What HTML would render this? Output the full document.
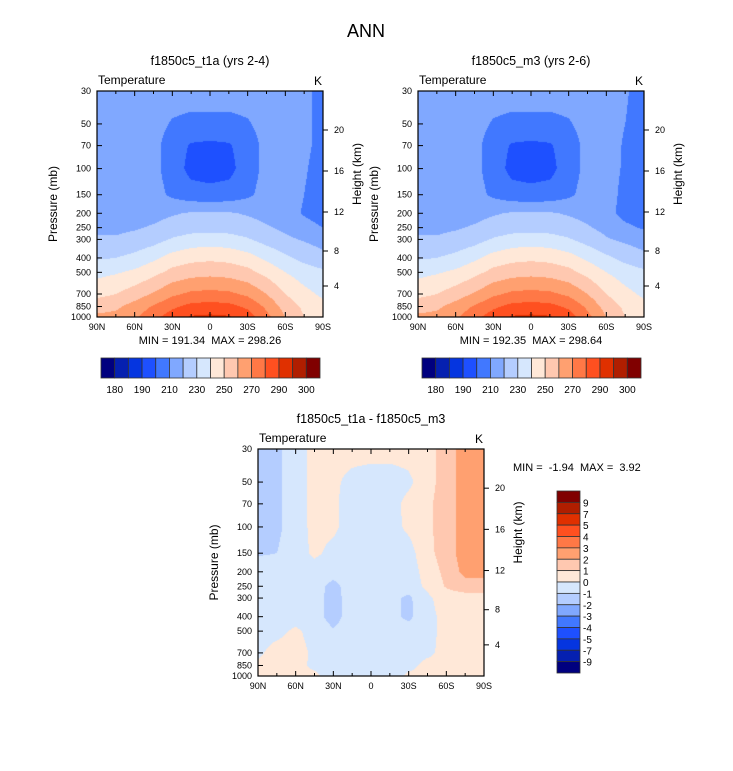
<!DOCTYPE html>
<html><head><meta charset="utf-8"><style>
body{margin:0;background:#fff;width:733px;height:771px;overflow:hidden;position:relative;font-family:"Liberation Sans",sans-serif}
canvas{position:absolute}
svg{position:absolute;left:0;top:0}
</style></head><body>
<canvas id="c0"></canvas>
<canvas id="c1"></canvas>
<canvas id="c2"></canvas>
<svg id="s" width="733" height="771"></svg>
<script>
const lats=[90,75,60,45,30,15,0,-15,-30,-45,-60,-75,-90];
const levs=[30,50,70,100,150,200,250,300,400,500,700,850,1000];
const pTicks=[30,50,70,100,150,200,250,300,400,500,700,850,1000];
const hTicks=[20,16,12,8,4];
const hTickY=[130,171,212,251,286];
const latTicks=[90,60,30,0,-30,-60,-90];
const latLabels=["90N","60N","30N","0","30S","60S","90S"];
const tLevels=[180,185,190,200,210,220,230,240,250,260,270,280,290,295,300];
const tLabels=["180","190","210","230","250","270","290","300"];
const dLevels=[-9,-7,-5,-4,-3,-2,-1,0,1,2,3,4,5,7,9];
const colors=["#00007f","#0520b0","#0535e0","#1e50ff","#4178ff","#80a8ff","#b4cdff","#d6e7fd","#ffe8d8","#ffc8b0","#ffa070","#ff7846","#ff5020","#e03000","#b01e00","#800000"];
const tempA=[
[215,215,215,215,215,215,215,215,215,215,215,212,207],
[215,215,215,214,209,207,207,207,209,214,215,212,207],
[215,215,215,213,205,199,198,199,205,213,215,212,207],
[215,215,215,213,205,197,196,197,205,213,215,211,206],
[215,215,215,214,208,204,203,204,208,214,215,210,205],
[216,216,216,217,219,221,221,221,219,217,214,209,205],
[218,218,219,221,224,226,226,226,224,221,218,214,210],
[221,221,223,226,231,234,235,234,231,226,222,219,216],
[229,230,233,238,244,247,248,247,244,238,232,227,223],
[237,239,242,247,253,256,257,256,253,247,240,235,232],
[247,250,255,261,268,272,273,272,268,260,250,243,238],
[256,258,264,271,278,283,284,283,278,268,256,248,243],
[262,263,268,277,285,291,292,291,285,273,260,250,246]];
const tempB=[
[215,215,215,215,215,215,215,215,215,215,214,211,206],
[215,215,215,214,209,207,207,207,209,214,214,210,206],
[215,215,215,213,205,199,198,199,205,213,214,209,206],
[215,215,215,213,205,197,196,197,205,213,213,209,205],
[215,215,215,214,208,204,203,204,208,214,213,208,204],
[216,216,216,217,219,221,221,221,219,217,213,207,204],
[218,218,219,221,224,226,226,226,224,221,217,212,209],
[221,221,223,226,231,234,235,234,231,226,221,218,215],
[229,230,233,238,244,247,248,247,244,238,232,227,223],
[237,239,242,247,253,256,257,256,253,247,240,235,232],
[247,250,255,261,268,272,273,272,268,260,250,243,238],
[256,258,264,271,278,283,284,283,278,268,256,248,243],
[262,263,268,277,285,291,292,291,285,273,260,250,246]];
const diff=[
[-1.3,-1.2,-0.5,0.3,0.3,0.4,0.4,0.4,0.4,0.6,1.5,2.5,2.6],
[-1.3,-1.2,-0.5,0.3,0.2,-0.3,-0.5,-0.5,-0.2,0.6,1.5,2.5,2.6],
[-1.3,-1.2,-0.5,0.3,0.2,-0.5,-0.5,-0.4,0.3,0.8,1.5,2.5,2.6],
[-1.3,-1.2,-0.5,0.3,0.2,-0.5,-0.5,-0.4,0.2,0.8,1.5,2.5,2.6],
[-1.1,-1.0,-0.5,0.2,-0.3,-0.5,-0.5,-0.5,-0.4,0.7,1.5,2.5,2.6],
[-0.5,-0.5,-0.5,-0.5,-0.6,-0.5,-0.5,-0.5,-0.5,0.4,1.3,2.3,2.3],
[-0.5,-0.5,-0.5,-0.6,-1.3,-0.5,-0.5,-0.6,-0.5,0.2,1.1,1.6,1.6],
[-0.5,-0.5,-0.5,-0.6,-1.4,-0.5,-0.5,-0.7,-1.2,-0.2,0.5,0.5,0.5],
[-0.5,-0.5,-0.5,-0.6,-1.4,-0.5,-0.5,-0.7,-1.2,-0.3,0.3,0.3,0.3],
[-0.4,-0.3,0.2,-0.4,-0.9,-0.5,-0.5,-0.5,-0.6,-0.3,0.3,0.3,0.3],
[-0.2,0.4,0.4,-0.2,-0.5,-0.5,-0.5,-0.5,-0.4,-0.2,0.3,0.6,0.3],
[0.2,0.4,0.3,-0.2,-0.5,-0.5,-0.5,-0.5,-0.3,0.3,0.3,0.5,0.3],
[0.3,0.4,0.3,0.2,-0.4,-0.5,-0.5,-0.5,0.2,0.3,0.3,0.3,0.3]];

const S=document.getElementById('s');const NS="http://www.w3.org/2000/svg";
function el(t,a,txt,name,parent){const e=document.createElementNS(NS,t);for(const k in a)e.setAttribute(k,a[k]);if(txt!=null)e.textContent=txt;


(parent||S).appendChild(e);return e;}
function lvlIndex(v,L){let i=0;while(i<L.length&&v>=L[i])i++;return i;}
function interp(grid,lat,p){
 let fx=(90-lat)/15;let ix=Math.min(11,Math.floor(fx));let tx=fx-ix;
 let lp=Math.log(p);let iy=0;while(iy<11&&Math.log(levs[iy+1])<lp)iy++;
 let ty=(lp-Math.log(levs[iy]))/(Math.log(levs[iy+1])-Math.log(levs[iy]));
 const a=grid[iy][ix],b=grid[iy][ix+1],c=grid[iy+1][ix],d=grid[iy+1][ix+1];
 return (a*(1-tx)+b*tx)*(1-ty)+(c*(1-tx)+d*tx)*ty;}
function plot(id,grid,L,x0,y0,w,h,title,mm,nameP){
 const cv=document.getElementById(id);cv.width=w;cv.height=h;cv.style.left=x0+'px';cv.style.top=y0+'px';
 const ctx=cv.getContext('2d');
 const xs=(lat)=>x0+(90-lat)/180*w;
 const ys=(p)=>y0+Math.log(p/30)/Math.log(1000/30)*h;
 for(let px=0;px<w;px++){const lat=90-180*(px+0.5)/w;
  for(let py=0;py<h;py++){const p=30*Math.pow(1000/30,(py+0.5)/h);
   ctx.fillStyle=colors[lvlIndex(interp(grid,lat,p),L)];ctx.fillRect(px,py,1,1);}}
 const g=el('g',{},null,nameP+'-axes');
 el('rect',{x:x0,y:y0,width:w,height:h,fill:'none',stroke:'#000','stroke-width':1.2},null,nameP+'-frame',g);
 latTicks.forEach((lt,i)=>{const x=xs(lt);
  el('line',{x1:x,x2:x,y1:y0+h,y2:y0+h-5,stroke:'#000'},null,'x-tick',g);
  el('line',{x1:x,x2:x,y1:y0,y2:y0+5,stroke:'#000'},null,'x-tick-top',g);
  el('text',{x:x,y:y0+h+13,'font-size':9,'text-anchor':'middle'},latLabels[i],'x-tick-label',g);});
 for(let lt=75;lt>-90;lt-=30){const x=xs(lt);
  el('line',{x1:x,x2:x,y1:y0+h,y2:y0+h-3,stroke:'#000'},null,'x-minor-tick',g);
  el('line',{x1:x,x2:x,y1:y0,y2:y0+3,stroke:'#000'},null,'x-minor-tick',g);}
 pTicks.forEach(p=>{const y=ys(p);
  el('line',{x1:x0,x2:x0+5,y1:y,y2:y,stroke:'#000'},null,'y-tick',g);
  el('text',{x:x0-6,y:y+3,'font-size':9,'text-anchor':'end'},String(p),'y-tick-label',g);});
 hTicks.forEach((hk,i)=>{const y=y0+(hTickY[i]-91)*h/226;
  el('line',{x1:x0+w,x2:x0+w+5,y1:y,y2:y,stroke:'#000'},null,'height-tick',g);
  el('text',{x:x0+w+11,y:y+3,'font-size':9},String(hk),'height-tick-label',g);});
 el('text',{x:x0-40,y:y0+h/2,'font-size':12,'text-anchor':'middle',transform:`rotate(-90 ${x0-40} ${y0+h/2})`},'Pressure (mb)','y-axis-title',g);
 el('text',{x:x0+w+38,y:y0+h/2-30,'font-size':12,'text-anchor':'middle',transform:`rotate(-90 ${x0+w+38} ${y0+h/2-30})`},'Height (km)','height-axis-title',g);
 el('text',{x:x0+1,y:y0-7,'font-size':12},'Temperature','variable-label',g);
 el('text',{x:x0+w-1,y:y0-6,'font-size':12,'text-anchor':'end'},'K','units-label',g);
 el('text',{x:x0+w/2,y:y0-26,'font-size':12.5,'text-anchor':'middle'},title,'panel-title',g);
 if(mm)el('text',{x:x0+w/2,y:y0+h+27,'font-size':11,'text-anchor':'middle','xml:space':'preserve'},mm,'min-max-label',g);
}
plot('c0',tempA,tLevels,97,91,226,226,'f1850c5_t1a (yrs 2-4)','MIN = 191.34\u00a0\u00a0MAX = 298.26','left');
plot('c1',tempB,tLevels,418,91,226,226,'f1850c5_m3 (yrs 2-6)','MIN = 192.35\u00a0\u00a0MAX = 298.64','right');
plot('c2',diff,dLevels,258,449,226,227,'f1850c5_t1a - f1850c5_m3',null,'diff');
el('text',{x:366,y:37,'font-size':18,'text-anchor':'middle'},'ANN','main-title');
el('text',{x:513,y:471,'font-size':11},'MIN =\u00a0\u00a0-1.94\u00a0\u00a0MAX =\u00a0\u00a03.92','diff-min-max-label');
function hbar(x0,name){const w=219/16;const g=el('g',{},null,name);
 colors.forEach((c,i)=>el('rect',{x:x0+i*w,y:358,width:w,height:20,fill:c,stroke:'#333','stroke-width':0.8},null,'colorbar-box',g));
 tLabels.forEach((t,j)=>el('text',{x:x0+(2*j+1)*w,y:393,'font-size':10,'text-anchor':'middle'},t,'colorbar-label',g));}
hbar(101,'left-colorbar');hbar(422,'right-colorbar');
(function(){const g=el('g',{},null,'diff-colorbar');const h=182/16;
 colors.slice().reverse().forEach((c,i)=>el('rect',{x:557,y:491+i*h,width:23,height:h,fill:c,stroke:'#333','stroke-width':0.8},null,'colorbar-box',g));
 dLevels.slice().reverse().forEach((v,i)=>el('text',{x:583,y:491+(i+1)*h+4,'font-size':10},String(v),'colorbar-label',g));})();
</script>
</body></html>
